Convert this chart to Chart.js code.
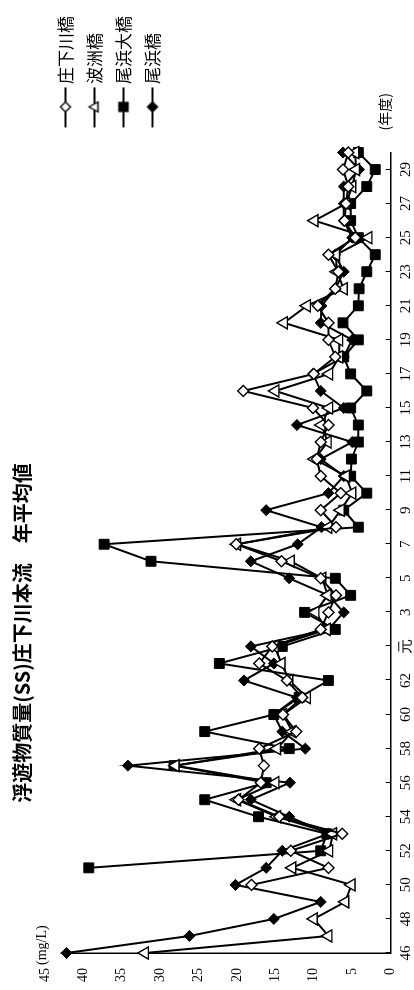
<!DOCTYPE html>
<html lang="ja">
<head>
<meta charset="utf-8">
<title>浮遊物質量(SS)庄下川本流 年平均値</title>
<script src="https://cdn.jsdelivr.net/npm/chart.js@4.4.1/dist/chart.umd.min.js"></script>
<style>
    html, body { margin: 0; padding: 0; background: #fff; overflow: hidden; }
    body { width: 414px; height: 990px; position: relative; }
    /* the chart is laid out landscape, then turned a quarter turn like the printed page */
    #wrap {
        position: absolute; left: 0; top: 0;
        width: 990px; height: 414px;
        transform-origin: 0 0;
        transform: translate(0, 990px) rotate(-90deg);
    }
</style>
</head>
<body>
<div id="wrap"><canvas id="ssChart" width="990" height="414"></canvas></div>
<script>
// 年度 (昭和46 ～ 平成30)
const years = ['46', '47', '48', '49', '50', '51', '52', '53', '54', '55', '56', '57', '58', '59', '60', '61', '62', '63',
    '元', '2', '3', '4', '5', '6', '7', '8', '9', '10', '11', '12', '13', '14', '15', '16', '17', '18', '19', '20',
    '21', '22', '23', '24', '25', '26', '27', '28', '29', '30'];

const seriesNames = ['庄下川橋', '波洲橋', '尾浜大橋', '尾浜橋'];

// SS 年平均値 (mg/L)
const shogegawaBashi = [null, null, null, null, 18.1, 8.1, 13.0, 6.3, 14.5, 19.8, 16.9, 16.5, 17.1, 12.3, 14.0, 11.5, 13.5, 17.1,
    15.4, 9.1, 8.1, 7.1, 9.1, 14.2, 20.1, 7.1, 9.1, 6.5, 9.1, 9.6, 9.1, 8.1, 10.1, 19.2, 10.0, 7.2, 8.1, 8.1,
    9.5, 7.2, 6.8, 8.1, 4.6, 6.0, 5.8, 5.5, 6.2, 5.5];
const hasuBashi = [32.0, 8.1, 10.0, 5.9, 5.1, 12.8, 8.0, 7.5, 14.8, 20.0, 15.0, 28.0, 14.8, 12.8, 14.0, 10.9, 13.2, 14.2,
    15.1, 8.3, 9.8, 8.2, 8.9, 13.0, 20.0, 8.1, 6.5, 5.0, 5.8, 9.9, 8.2, 9.0, 8.0, 15.0, 8.0, 6.7, 6.7, 13.9,
    10.9, 6.1, 7.0, 7.1, 2.9, 9.9, 5.8, 5.0, 4.5, 4.6];
const ohamaOhashi = [null, null, null, null, null, 39.3, 9.1, 8.3, 17.2, 24.2, 16.2, 28.2, 13.2, 24.2, 15.2, 11.9, 8.1, 22.3,
    14.1, 7.2, 11.2, 5.2, 7.2, 31.2, 37.3, 4.2, 6.1, 3.1, 5.2, 5.1, 4.2, 4.2, 5.2, 3.1, 5.2, 6.1, 4.2, 6.2,
    4.2, 4.1, 3.1, 2.0, 4.2, 5.2, 5.2, 3.1, 2.0, 4.2];
const ohamaBashi = [42.2, 26.2, 15.2, 9.1, 20.2, 16.2, 14.1, 8.1, 13.2, 18.2, 13.1, 34.2, 11.1, 14.1, 15.2, 12.2, 19.1, 15.2,
    18.2, 8.1, 6.1, 8.1, 13.2, 18.2, 12.1, 9.0, 16.2, 8.1, 6.1, 9.1, 5.0, 12.2, 6.1, 9.1, 10.1, 6.1, 5.0, 9.1,
    9.0, 7.2, 6.1, 7.2, 5.0, 6.1, 6.1, 6.1, 4.1, 6.2];

const yMax = 45;
const yStep = 5;

const CJK = '"Noto Sans CJK JP", sans-serif';
const SERIF = '"Liberation Serif", "DejaVu Serif", serif';

// small line + marker picture for each legend entry
function legendIcon(style, filled) {
    const c = document.createElement('canvas');
    c.width = 60;
    c.height = 16;
    const g = c.getContext('2d');
    const cx = 39.5, cy = 8;
    g.strokeStyle = '#000';
    g.lineWidth = 2;
    g.beginPath();
    g.moveTo(19, cy);
    g.lineTo(59, cy);
    g.stroke();
    g.fillStyle = filled ? '#000' : '#fff';
    g.lineWidth = 1.3;
    g.beginPath();
    if (style === 'rectRot') {
        g.moveTo(cx, cy - 5); g.lineTo(cx + 5, cy); g.lineTo(cx, cy + 5); g.lineTo(cx - 5, cy);
    } else if (style === 'triangle') {
        g.moveTo(cx, cy - 5.5); g.lineTo(cx + 5, cy + 3.5); g.lineTo(cx - 5, cy + 3.5);
    } else {
        g.rect(cx - 4.5, cy - 4.5, 9, 9);
    }
    g.closePath();
    g.fill();
    g.stroke();
    return c;
}

const legendIcons = [
    legendIcon('rectRot', false),
    legendIcon('triangle', false),
    legendIcon('rect', true),
    legendIcon('rectRot', true)
];

// title, unit labels and the inward year ticks
const extras = {
    id: 'extras',
    beforeDatasetsDraw(chart) {
        const { ctx, chartArea, scales: { x, y } } = chart;
        ctx.save();
        ctx.strokeStyle = '#000';
        ctx.lineWidth = 1;
        years.forEach((_, i) => {
            if (i % 2) return;
            const px = Math.round(x.getPixelForValue(i)) + 0.5;
            ctx.beginPath();
            ctx.moveTo(px, chartArea.bottom);
            ctx.lineTo(px, chartArea.bottom - 5);
            ctx.stroke();
        });

        const top = y.getPixelForValue(yMax);
        ctx.fillStyle = '#fff';
        ctx.fillRect(chartArea.left - 12, top - 12, 45, 27.5);
        ctx.fillStyle = '#000';
        ctx.font = '14px ' + SERIF;
        ctx.textAlign = 'left';
        ctx.textBaseline = 'middle';
        ctx.fillText('(mg/L)', chartArea.left - 12, top - 2.5);

        ctx.font = '14px ' + CJK;
        ctx.fillText('(年度)', chartArea.right + 22, chartArea.bottom - 6);

        ctx.font = 'bold 20px ' + CJK;
        ctx.textAlign = 'center';
        ctx.fillText('浮遊物質量(SS)庄下川本流　年平均値', 357, 22);
        ctx.restore();
    }
};

document.addEventListener('DOMContentLoaded', () => {
    const ssCtx = document.getElementById('ssChart');
    if (!ssCtx) return;

    const line = (label, data, style, radius, filled) => ({
        label: label,
        data: data,
        borderColor: '#000',
        borderWidth: 2,
        pointStyle: style,
        pointRadius: radius,
        pointHoverRadius: radius,
        pointBackgroundColor: filled ? '#000' : '#fff',
        pointBorderColor: '#000',
        pointBorderWidth: filled ? 1 : 1.4,
        tension: 0,
        clip: false
    });

    new Chart(ssCtx, {
        type: 'line',
        data: {
            labels: years,
            datasets: [
                line(seriesNames[0], shogegawaBashi, 'rectRot', 5.5, false),
                line(seriesNames[1], hasuBashi, 'triangle', 7, false),
                line(seriesNames[2], ohamaOhashi, 'rect', 7, true),
                line(seriesNames[3], ohamaBashi, 'rectRot', 5.5, true)
            ]
        },
        options: {
            responsive: false,
            animation: false,
            layout: {
                padding: { left: 8, right: 6, top: 45, bottom: 0 }
            },
            plugins: {
                tooltip: { enabled: false },
                title: { display: false },
                legend: {
                    position: 'right',
                    align: 'start',
                    labels: {
                        usePointStyle: true,
                        pointStyleWidth: 48,
                        padding: 12,
                        color: '#000',
                        font: { family: CJK, size: 17 },
                        generateLabels: chart => chart.data.datasets.map((ds, i) => ({
                            text: ds.label,
                            datasetIndex: i,
                            pointStyle: legendIcons[i],
                            fontColor: '#000',
                            fillStyle: 'transparent',
                            strokeStyle: 'transparent',
                            lineWidth: 0,
                            hidden: false
                        }))
                    }
                }
            },
            scales: {
                x: {
                    offset: false,
                    grid: { display: false, drawTicks: false },
                    border: { color: '#000', width: 1.5 },
                    afterFit: s => { s.height = 22; },
                    ticks: {
                        autoSkip: false,
                        maxRotation: 0,
                        padding: 8,
                        color: '#000',
                        font: { family: SERIF, size: 15, lineHeight: 1 },
                        callback: (v, i) => (i % 2 === 0 ? years[i] : null)
                    }
                },
                y: {
                    min: 0,
                    max: yMax,
                    grid: { display: false, drawTicks: false },
                    border: { color: '#000', width: 1.5 },
                    afterFit: s => { s.width = 29; },
                    ticks: {
                        stepSize: yStep,
                        padding: 15,
                        color: '#000',
                        font: { family: SERIF, size: 14 }
                    }
                }
            }
        },
        plugins: [extras]
    });
});
</script>
</body>
</html>
